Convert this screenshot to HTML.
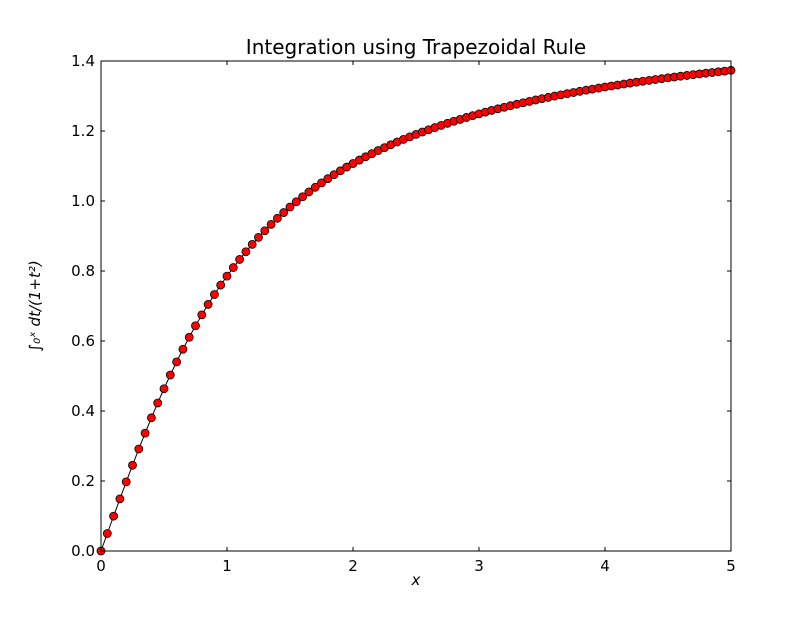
<!DOCTYPE html>
<html><head><meta charset="utf-8"><style>
body{margin:0;background:#fff;width:812px;height:612px;overflow:hidden}
svg text{font-family:"DejaVu Sans","Liberation Sans",sans-serif}
</style></head><body>
<svg id="chart" width="812" height="612" xmlns="http://www.w3.org/2000/svg">
<rect width="812" height="612" fill="#fff"/>
<text x="416" y="54" font-size="20" text-anchor="middle">Integration using Trapezoidal Rule</text>
<text x="416" y="585" font-size="15" font-style="italic" text-anchor="middle" font-family="Liberation Serif,serif">x</text>
<g transform="translate(40,306) rotate(-90)">
<text x="0" y="0" font-size="15" text-anchor="middle" font-family="Liberation Serif,serif" font-style="italic">∫₀ˣ dt/(1+t²)</text>
</g>
<g id="plot"></g>
</svg>
<script>
const xTicks=[0,1,2,3,4,5];
const yTicks=[0.0,0.2,0.4,0.6,0.8,1.0,1.2,1.4];
const xValues=[0,0.05,0.1,0.15,0.2,0.25,0.3,0.35,0.4,0.45,0.5,0.55,0.6,0.65,0.7,0.75,0.8,0.85,0.9,0.95,1,1.05,1.1,1.15,1.2,1.25,1.3,1.35,1.4,1.45,1.5,1.55,1.6,1.65,1.7,1.75,1.8,1.85,1.9,1.95,2,2.05,2.1,2.15,2.2,2.25,2.3,2.35,2.4,2.45,2.5,2.55,2.6,2.65,2.7,2.75,2.8,2.85,2.9,2.95,3,3.05,3.1,3.15,3.2,3.25,3.3,3.35,3.4,3.45,3.5,3.55,3.6,3.65,3.7,3.75,3.8,3.85,3.9,3.95,4,4.05,4.1,4.15,4.2,4.25,4.3,4.35,4.4,4.45,4.5,4.55,4.6,4.65,4.7,4.75,4.8,4.85,4.9,4.95,5];
const yValues=[0,0.0500,0.0997,0.1489,0.1974,0.2450,0.2915,0.3367,0.3805,0.4229,0.4636,0.5028,0.5404,0.5764,0.6107,0.6435,0.6747,0.7045,0.7328,0.7598,0.7854,0.8098,0.8330,0.8551,0.8761,0.8961,0.9151,0.9332,0.9505,0.9670,0.9828,0.9978,1.0122,1.0259,1.0391,1.0517,1.0637,1.0753,1.0863,1.0970,1.1071,1.1169,1.1263,1.1353,1.1442,1.1526,1.1607,1.1685,1.1760,1.1833,1.1903,1.1971,1.2036,1.2099,1.2161,1.2220,1.2278,1.2333,1.2387,1.2440,1.2490,1.2540,1.2588,1.2634,1.2679,1.2723,1.2766,1.2808,1.2847,1.2887,1.2925,1.2962,1.2998,1.3033,1.3068,1.3101,1.3134,1.3166,1.3197,1.3227,1.3258,1.3286,1.3315,1.3342,1.3369,1.3396,1.3422,1.3447,1.3471,1.3495,1.3521,1.3543,1.3566,1.3588,1.3610,1.3631,1.3652,1.3672,1.3692,1.3711,1.3734];
const L=101,R=731,T=61,B=551;
const sx=v=>L+(v-0)/(5-0)*(R-L);
const sy=v=>B-(v-0)/(1.4-0)*(B-T);
const NS="http://www.w3.org/2000/svg";
const g=document.getElementById('plot');
function mk(tag,attrs){const e=document.createElementNS(NS,tag);for(const k in attrs)e.setAttribute(k,attrs[k]);g.appendChild(e);return e;}
let d=xValues.map((x,i)=>(i?'L':'M')+sx(x).toFixed(2)+' '+sy(yValues[i]).toFixed(2)).join(' ');
const line=mk('path',{d:d,fill:'none',stroke:'#000','stroke-width':1});


xValues.forEach((x,i)=>{
 const c=mk('circle',{cx:sx(x),cy:sy(yValues[i]),r:4,fill:'#f00',stroke:'#000','stroke-width':0.8});
 
 
});
const fr=mk('rect',{x:L,y:T,width:R-L,height:B-T,fill:'none',stroke:'#000','stroke-width':1});


xTicks.forEach(t=>{
 const x=sx(t);
 const a=mk('path',{d:`M${x} ${B}V${B-4}M${x} ${T}V${T+4}`,stroke:'#000'});
 
 
 const tx=mk('text',{x:x,y:B+20,'font-size':15,'text-anchor':'middle'});
 tx.textContent=t;
 
 
});
yTicks.forEach(t=>{
 const y=sy(t);
 const a=mk('path',{d:`M${L} ${y}H${L+4}M${R} ${y}H${R-4}`,stroke:'#000'});
 
 
 const tx=mk('text',{x:L-6,y:y+5,'font-size':15,'text-anchor':'end'});
 tx.textContent=t.toFixed(1);
 
 
});
</script>
</body></html>
